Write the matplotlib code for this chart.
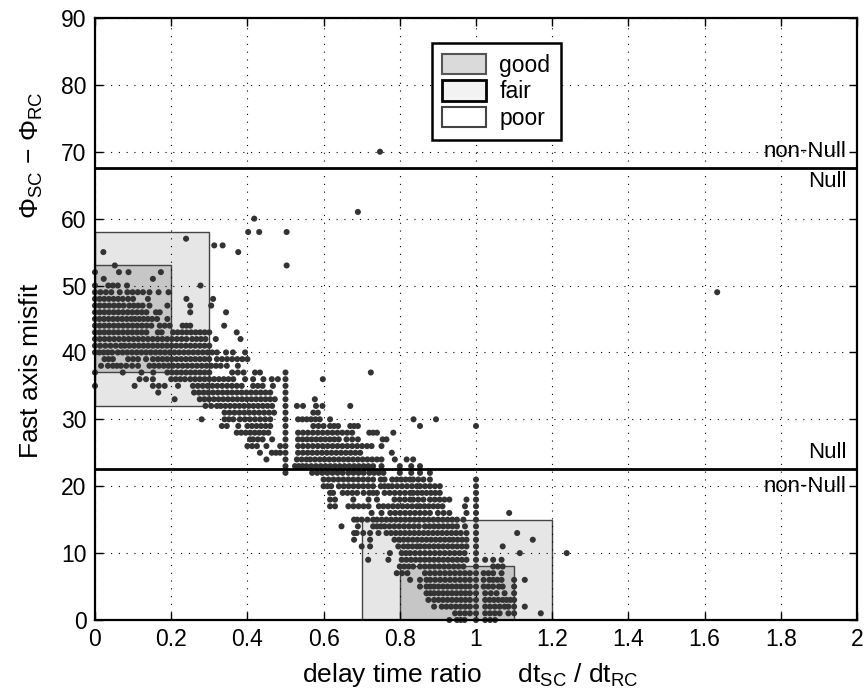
import numpy as np
import matplotlib
matplotlib.use("Agg")
import matplotlib.pyplot as plt
from matplotlib.patches import Rectangle, Patch

plt.rcParams['font.family'] = ['Liberation Sans', 'DejaVu Sans']
plt.rcParams['mathtext.fontset'] = 'custom'
plt.rcParams['mathtext.rm'] = 'Liberation Sans'
plt.rcParams['mathtext.it'] = 'Liberation Sans:italic'

# ---- data: each row (misfit in degrees) lists single x values or runs (x0, x1) ----
rows = {
    70: [0.748],
    61: [0.69],
    60: [0.418],
    58: [0.402, 0.431, 0.503],
    57: [0.239],
    56: [0.313, 0.335],
    55: [0.022, 0.376],
    53: [0.052, 0.503],
    52: [0.0, 0.063, 0.088, 0.173],
    51: [0.023, 0.152],
    50: [0.0, 0.035, 0.047, 0.06, 0.084, 0.277],
    49: [(0, 0.043), 0.065, (0.085, 0.126), 0.143, 0.167, 0.193, 1.633],
    48: [(0, 0.073), (0.087, 0.1), 0.139, 0.24, 0.31],
    47: [(0, 0.075), (0.09, 0.125), 0.143, 0.19, 0.25, 0.305],
    46: [(0, 0.135), (0.16, 0.17), 0.25, 0.344],
    45: [(0, 0.095), (0.105, 0.15), 0.163, 0.19],
    44: [(0, 0.148), (0.17, 0.196), (0.23, 0.25), 0.339],
    43: [(0, 0.135), (0.165, 0.175), (0.205, 0.30), 0.372],
    42: [(0, 0.24), (0.255, 0.29), 0.317, 0.382],
    41: [(0, 0.068), (0.078, 0.3)],
    40: [(0, 0.045), (0.06, 0.32), 0.344, 0.362, 0.394],
    39: [(0.025, 0.047), (0.087, 0.1), 0.113, (0.134, 0.152), (0.165, 0.30), (0.32, 0.40)],
    38: [(0.016, 0.034), (0.047, 0.068), (0.082, 0.113), (0.143, 0.33), 0.346, 0.375],
    37: [0.0, 0.073, 0.122, 0.153, (0.19, 0.30), (0.36, 0.39), (0.42, 0.433), 0.5, 0.724],
    36: [0.117, (0.134, 0.152), (0.2, 0.236), (0.25, 0.363), 0.394, 0.415, 0.442, 0.464, 0.48, 0.5, 0.598],
    35: [0.0, 0.104, (0.152, 0.183), 0.218, (0.257, 0.385), (0.415, 0.44), 0.467, 0.5],
    34: [0.166, (0.26, 0.46), 0.5],
    33: [0.209, (0.275, 0.46), 0.472, 0.5, 0.577],
    32: [(0.29, 0.32), (0.33, 0.465), 0.5, (0.53, 0.546), (0.58, 0.597), 0.67],
    31: [(0.34, 0.47), 0.5, (0.573, 0.585)],
    30: [0.28, (0.34, 0.363), (0.38, 0.46), 0.5, (0.533, 0.59), 0.617, 0.836, 0.895],
    29: [(0.333, 0.346), 0.376, (0.4, 0.46), 0.5, (0.573, 0.6), (0.617, 0.638), (0.67, 0.69), 0.853, 1.0],
    28: [(0.372, 0.455), 0.5, (0.533, 0.675), (0.72, 0.74), 0.783],
    27: [0.407, (0.415, 0.44), 0.465, 0.5, (0.533, 0.64), (0.66, 0.69), (0.755, 0.765)],
    26: [(0.4, 0.425), 0.45, 0.486, 0.5, (0.533, 0.714), 0.726, 0.752],
    25: [0.433, (0.464, 0.486), 0.5, (0.533, 0.696), 0.779],
    24: [0.45, 0.5, (0.53, 0.555), (0.565, 0.74), 0.752, 0.787, (0.818, 0.835)],
    23: [0.5, (0.525, 0.545), (0.555, 0.73), 0.752, 0.8, 0.83, 0.853],
    22: [0.5, (0.57, 0.65), (0.665, 0.705), (0.72, 0.757), 0.8, 0.83, 0.853, 0.879],
    21: [(0.6, 0.73), (0.75, 0.76), (0.78, 0.827), (0.835, 0.862), 0.879, 1.0],
    20: [(0.6, 0.62), (0.64, 0.73), (0.75, 0.77), (0.78, 0.845), (0.853, 0.905), 1.0],
    19: [(0.617, 0.625), (0.65, 0.688), 0.705, (0.72, 0.74), (0.76, 0.827), (0.835, 0.905), 1.0],
    18: [(0.617, 0.63), 0.678, 0.718, 0.74, (0.786, 0.827), (0.835, 0.862), (0.879, 0.93), 0.975, 1.0],
    17: [(0.617, 0.63), (0.665, 0.705), 0.718, 0.745, (0.757, 0.845), (0.853, 0.9), 0.912, 0.971, 1.0],
    16: [0.726, 0.752, (0.775, 0.879), (0.9, 0.93), 0.975, 1.0, 1.087],
    15: [(0.68, 0.688), (0.7, 0.73), (0.74, 0.95), 0.967, 1.0],
    14: [0.647, 0.69, (0.73, 0.75), (0.76, 0.85), (0.866, 0.95), 0.971, 1.0],
    13: [0.68, 0.687, 0.704, 0.722, 0.744, (0.765, 0.96), 0.975, 1.0, 1.108],
    12: [0.68, 0.722, (0.786, 0.93), (0.94, 0.975), 1.0, 1.149],
    11: [0.7, 0.722, 0.796, (0.81, 0.845), (0.853, 0.975), 1.0, 1.07],
    10: [0.774, (0.805, 0.827), (0.84, 0.97), 1.0, 1.115, 1.238],
    9: [0.717, 0.77, (0.805, 0.975), 1.0, 1.024, 1.045, 1.067],
    8: [(0.8, 0.835), (0.853, 0.967), 1.0, (1.045, 1.07)],
    7: [(0.792, 0.82), (0.866, 0.984), 1.0, (1.02, 1.045), 1.067],
    6: [0.827, (0.853, 0.87), (0.88, 0.984), 1.0, (1.02, 1.035), (1.045, 1.067), 1.10, 1.128],
    5: [0.853, (0.87, 0.88), (0.89, 0.984), 1.0, (1.02, 1.045), (1.06, 1.07), 1.10],
    4: [(0.87, 0.88), (0.89, 0.984), 1.0, (1.024, 1.054), 1.075, 1.10],
    3: [0.875, (0.89, 0.984), 1.0, (1.024, 1.07), (1.08, 1.09), 1.10],
    2: [0.89, (0.91, 0.984), 1.0, (1.024, 1.062), (1.075, 1.085), 1.10, 1.128],
    1: [(0.945, 0.984), 1.0, (1.024, 1.062), 1.085, 1.10, 1.17],
    0: [0.93, (0.95, 0.97), 1.0, (1.024, 1.05)],
}

# quality regions: (x0, x1, y0, y1)
fair_boxes = [(0.0, 0.3, 32, 58), (0.7, 1.2, 0, 15)]
good_boxes = [(0.0, 0.2, 37, 53), (0.8, 1.1, 0, 8)]
null_limits = [22.5, 67.5]
xticks = [0, 0.2, 0.4, 0.6, 0.8, 1, 1.2, 1.4, 1.6, 1.8, 2]
xticklabels = ['0', '0.2', '0.4', '0.6', '0.8', '1', '1.2', '1.4', '1.6', '1.8', '2']
yticks = list(range(0, 91, 10))

# expand rows into point lists
xs, ys = [], []
step = 0.0125
for y, items in rows.items():
    for it in items:
        if isinstance(it, tuple):
            a, b = it
            n = max(2, int(round((b - a) / step)) + 1)
            vals = np.linspace(a, b, n)
        else:
            vals = [it]
        for v in vals:
            xs.append(v)
            ys.append(y)

fig = plt.figure(figsize=(8.65, 6.96), dpi=100)
ax = fig.add_axes([0.1098, 0.1092, 0.881, 0.865])

for (x0, x1, y0, y1) in fair_boxes:
    ax.add_patch(Rectangle((x0, y0), x1 - x0, y1 - y0, facecolor='#e6e6e6',
                           edgecolor='#444444', lw=1.0, zorder=1))
for (x0, x1, y0, y1) in good_boxes:
    ax.add_patch(Rectangle((x0, y0), x1 - x0, y1 - y0, facecolor='#c6c6c6',
                           edgecolor='#444444', lw=1.0, zorder=1.1))

ax.scatter(xs, ys, s=19, c='#333333', edgecolors='none', zorder=3, clip_on=False)

for yl in null_limits:
    ax.axhline(yl, color='black', lw=2, zorder=4)

ax.set_xlim(0, 2)
ax.set_ylim(0, 90)
ax.set_xticks(xticks)
ax.set_xticklabels(xticklabels)
ax.set_yticks(yticks)
ax.tick_params(direction='in', length=6, width=1, labelsize=16.5, top=True, right=True, pad=6)
ax.grid(True, color='black', linestyle=(0, (1, 6)), lw=0.8)
ax.set_axisbelow(False)
for sp in ax.spines.values():
    sp.set_linewidth(1.6)
    sp.set_zorder(5)

ax.set_xlabel('delay time ratio     dt$_{\\mathrm{SC}}$ / dt$_{\\mathrm{RC}}$', fontsize=19)
ax.xaxis.set_label_coords(0.492, -0.068)
ax.set_ylabel('Fast axis misfit         $\\Phi_{\\mathrm{SC}}$ $-$ $\\Phi_{\\mathrm{RC}}$', fontsize=19)
ax.yaxis.set_label_coords(-0.066, 0.573)

tx = 1.972
fs_t = 16
ax.text(tx, 70, 'non-Null', ha='right', va='center', fontsize=fs_t, zorder=6)
ax.text(tx, 65.5, 'Null', ha='right', va='center', fontsize=fs_t, zorder=6)
ax.text(tx, 25.1, 'Null', ha='right', va='center', fontsize=fs_t, zorder=6)
ax.text(tx, 20, 'non-Null', ha='right', va='center', fontsize=fs_t, zorder=6)

handles = [Patch(facecolor='#dadada', edgecolor='#555555', lw=1.5, label='good'),
           Patch(facecolor='#f2f2f2', edgecolor='black', lw=2.0, label='fair'),
           Patch(facecolor='white', edgecolor='#444444', lw=1.5, label='poor')]
leg = ax.legend(handles=handles, loc='upper left', bbox_to_anchor=(0.442, 0.958),
                borderaxespad=0, fontsize=16.5, fancybox=False, framealpha=1,
                edgecolor='black', handlelength=1.9, handleheight=1.0,
                labelspacing=0.15, handletextpad=0.6, borderpad=0.45)
leg.get_frame().set_linewidth(1.8)
leg.set_zorder(7)

fig.savefig('out.png', dpi=100)
